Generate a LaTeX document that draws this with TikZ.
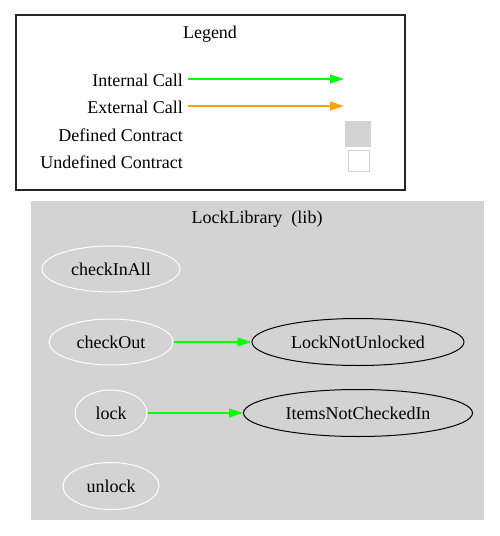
\documentclass[tikz,border=0pt]{standalone}
\usepackage{fontspec}
\setmainfont{Liberation Serif}
\usetikzlibrary{shapes.geometric,arrows.meta}
\definecolor{callgreen}{HTML}{00FF00}
\definecolor{callorange}{HTML}{FFA500}
\definecolor{lgray}{HTML}{D3D3D3}
\tikzset{
  lbl/.style={font=\fontsize{18}{20}\selectfont, inner sep=0pt},
  fn/.style={ellipse, draw=white, line width=1pt, inner sep=0pt, font=\fontsize{18}{20}\selectfont},
  err/.style={ellipse, draw=black, line width=1pt, inner sep=0pt, font=\fontsize{18}{20}\selectfont},
  call/.style={-{Triangle[length=14pt,width=9pt]}, line width=1.2pt, draw=callgreen, fill=callgreen},
  ext/.style={-{Triangle[length=14pt,width=9pt]}, line width=1.2pt, draw=callorange, fill=callorange},
}
\begin{document}
\begin{tikzpicture}[x=1pt,y=-1pt]
\useasboundingbox (0,0) rectangle (499,536);
\fill[white] (0,0) rectangle (499,536);
% Legend
\draw[line width=1.1pt, draw=black!85] (16,15) rectangle (405,190);
\node[lbl] (legtitle) at (210,34) {Legend};
\node[lbl, anchor=east] (ic) at (183,80) {Internal Call};
\node[lbl, anchor=east] (ec) at (183,107) {External Call};
\node[lbl, anchor=east] (dc) at (183,135) {Defined Contract};
\node[lbl, anchor=east] (uc) at (183,162) {Undefined Contract};
\coordinate (icend) at (344,79);
\coordinate (ecend) at (344,106);
\draw[call] (188,79) coordinate (icstart) -- (icend);
\draw[ext] (188,106) coordinate (ecstart) -- (ecend);
\node[fill=lgray, draw=lgray, minimum width=25pt, minimum height=25pt, inner sep=0pt] (defbox) at (358,134) {};
\node[fill=white, draw=lgray, line width=1pt, minimum width=21pt, minimum height=21pt, inner sep=0pt] (undefbox) at (358.5,161) {};
% Cluster
\fill[lgray] (31,201) rectangle (484,520);
\node[lbl] (ctitle) at (257,219) {LockLibrary\ \ (lib)};
\node[fn, minimum width=138pt, minimum height=46pt] (checkInAll) at (111,269) {checkInAll};
\node[fn, minimum width=124pt, minimum height=46pt] (checkOut) at (111,342) {checkOut};
\node[fn, minimum width=72pt, minimum height=46pt] (lock) at (111,413) {lock};
\node[fn, minimum width=96pt, minimum height=47pt] (unlock) at (111,486) {unlock};
\node[err, minimum width=212pt, minimum height=47pt] (lnu) at (358,342) {LockNotUnlocked};
\node[err, minimum width=229pt, minimum height=47pt] (inci) at (358,413) {ItemsNotCheckedIn};
\draw[call] (checkOut) -- (lnu);
\draw[call] (lock) -- (inci);
\end{tikzpicture}
\end{document}
